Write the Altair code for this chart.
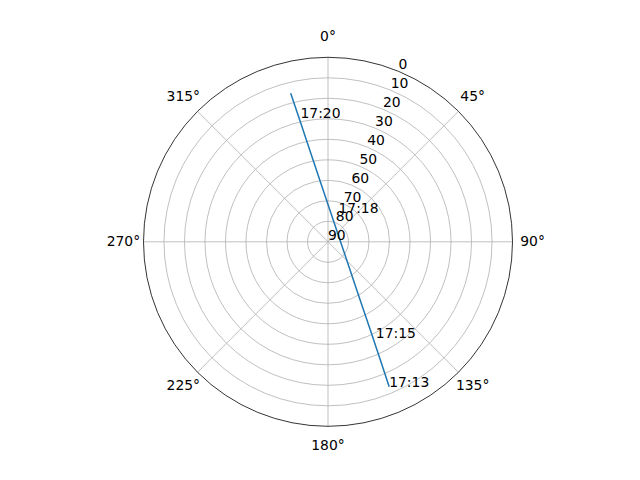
import math
import altair as alt
import pandas as pd

# ---- data ----
# satellite track (azimuth deg clockwise from north, elevation deg)
track_az = [157.1, 156.0, 154.2, 150.9, 141.5, 81.4, 3.9, 352.7, 348.9, 347.05, 345.9]
track_el = [13.3, 28.3, 43.3, 58.2, 72.9, 84.1, 74.8, 60.3, 45.4, 30.3, 15.3]

# time labels
label_times = ["17:13", "17:15", "17:18", "17:20"]
label_az = [157.1, 153.5, 20.2, 347.5]
label_el = [13.3, 37.7, 75.2, 28.0]

# grid / ticks
ring_el = [80, 70, 60, 50, 40, 30, 20, 10]
elev_ticks = [0, 10, 20, 30, 40, 50, 60, 70, 80, 90]
elev_label_az = 22.5
az_ticks = [0, 45, 90, 135, 180, 225, 270, 315]
az_labels = ["0°", "45°", "90°", "135°", "180°", "225°", "270°", "315°"]

# ---- scales (units: zenith distance = 90 - elevation) ----
W, H = 600, 460
PX = 2.05  # pixels per unit
cx, cy = 320.0, 233.8
xs = alt.Scale(domain=[-cx / PX, (W - cx) / PX], nice=False, zero=False)
ys = alt.Scale(domain=[-(H - cy) / PX, cy / PX], nice=False, zero=False)
rs = alt.Scale(type="linear", domain=[0, 90], range=[0, 90 * PX], zero=True, nice=False)

FONT = "DejaVu Sans"
FS = 13.9

def X(f):
    return alt.X(f, type="quantitative", scale=xs, axis=None)

def Y(f):
    return alt.Y(f, type="quantitative", scale=ys, axis=None)

# grid rings
rings = alt.Chart(pd.DataFrame({"el": ring_el})).transform_calculate(
    r="90 - datum.el", c="0"
).mark_arc(theta=0, theta2=2 * math.pi, fillOpacity=0, stroke="#b0b0b0", strokeWidth=0.8).encode(
    x=X("c"), y=Y("c"), radius=alt.Radius("r:Q", scale=rs, stack=False)
)

# spokes
spokes = alt.Chart(pd.DataFrame({"az": az_ticks})).transform_calculate(
    c="0",
    ex="90 * sin(datum.az * PI / 180)",
    ey="90 * cos(datum.az * PI / 180)",
).mark_rule(color="#b0b0b0", strokeWidth=0.8).encode(
    x=X("c"), y=Y("c"), x2="ex:Q", y2="ey:Q"
)

# outer spine
spine = alt.Chart(pd.DataFrame({"el": [0]})).transform_calculate(
    r="90 - datum.el", c="0"
).mark_arc(theta=0, theta2=2 * math.pi, fillOpacity=0, stroke="black", strokeWidth=0.8).encode(
    x=X("c"), y=Y("c"), radius=alt.Radius("r:Q", scale=rs, stack=False)
)

# track
track = alt.Chart(pd.DataFrame({"i": list(range(len(track_az))), "az": track_az, "el": track_el})).transform_calculate(
    px="(90 - datum.el) * sin(datum.az * PI / 180)",
    py="(90 - datum.el) * cos(datum.az * PI / 180)",
).mark_line(color="#1f77b4", strokeWidth=1.5).encode(
    x=X("px"), y=Y("py"), order=alt.Order("i:Q")
)

# radial (elevation) labels
rlabels = alt.Chart(pd.DataFrame({"el": elev_ticks, "t": [str(v) for v in elev_ticks]})).transform_calculate(
    px=f"(90 - datum.el) * sin({elev_label_az} * PI / 180)",
    py=f"(90 - datum.el) * cos({elev_label_az} * PI / 180)",
).mark_text(align="left", baseline="alphabetic", dy=-2, font=FONT, fontSize=FS, color="black").encode(
    x=X("px"), y=Y("py"), text="t:N"
)

# azimuth labels
alabels = alt.Chart(pd.DataFrame({"az": az_ticks, "t": az_labels})).transform_calculate(
    px="99.8 * sin(datum.az * PI / 180)",
    py="99.8 * cos(datum.az * PI / 180)",
).mark_text(align="center", baseline="middle", font=FONT, fontSize=FS, color="black").encode(
    x=X("px"), y=Y("py"), text="t:N"
)

# time labels
tlabels = alt.Chart(pd.DataFrame({"az": label_az, "el": label_el, "t": label_times})).transform_calculate(
    px="(90 - datum.el) * sin(datum.az * PI / 180)",
    py="(90 - datum.el) * cos(datum.az * PI / 180)",
).mark_text(align="left", baseline="alphabetic", font=FONT, fontSize=FS, color="black").encode(
    x=X("px"), y=Y("py"), text="t:N"
)

chart = alt.layer(rings, spokes, track, spine, rlabels, alabels, tlabels).properties(
    width=W, height=H, padding=0, background="white",
    autosize=alt.AutoSizeParams(type="none")
).configure_view(stroke=None, strokeWidth=0)

chart.save("out.html", embed_options={"renderer": "svg", "actions": False})
